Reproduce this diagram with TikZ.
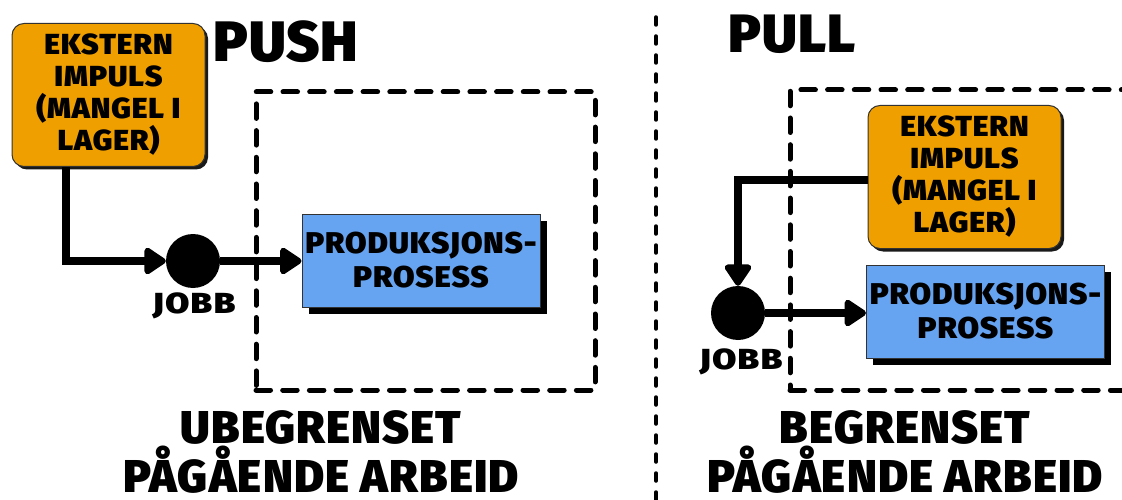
\documentclass[tikz,border=0pt]{standalone}
\usepackage{fontspec}
\setmainfont{Fira Sans Black}
\newfontfamily\boxfont{Fira Sans Black}[FakeStretch=1.04, LetterSpace=3]
\newfontfamily\jobbfont{Fira Sans Black}[FakeStretch=1.2, LetterSpace=5]
\newfontfamily\verdictfont{Fira Sans Black}[LetterSpace=2.5]
\newfontfamily\titlefont{Fira Sans Black}[LetterSpace=1.5]
\usetikzlibrary{arrows.meta,shadows}
\definecolor{impulsorange}{RGB}{239,159,0}
\definecolor{prosessblue}{RGB}{102,163,240}
\definecolor{edgegrey}{RGB}{50,50,50}
\tikzset{
  impulsbox/.style={draw=edgegrey, line width=1pt, fill=impulsorange,
    rounded corners=12pt, inner sep=0pt, align=center,
    minimum width=193pt, minimum height=143pt,
    font=\boxfont\fontsize{29}{32}\selectfont,
    drop shadow={shadow xshift=3pt, shadow yshift=-3pt, fill=black, opacity=0.9}},
  prosessbox/.style={draw=edgegrey, line width=1pt, fill=prosessblue,
    inner sep=0pt, align=center,
    minimum width=238pt, minimum height=93pt,
    font=\boxfont\fontsize{30}{34}\selectfont,
    drop shadow={shadow xshift=6.5pt, shadow yshift=-6.5pt, fill=black, opacity=1}},
  jobbdot/.style={circle, fill=black, minimum size=54pt, inner sep=0pt},
  flow/.style={line width=8pt, line join=miter,
    -{Triangle[length=24pt, width=30pt, round]}},
  wipframe/.style={draw, line width=5pt, line cap=round,
    dash pattern=on 14.5pt off 12.2pt, inner sep=0pt},
  divider/.style={line width=3.5pt, line cap=round, dash pattern=on 8pt off 11pt},
  tag/.style={font=\jobbfont\fontsize{29}{32}\selectfont, inner sep=0pt},
  title/.style={inner sep=0pt},
  verdict/.style={font=\verdictfont\fontsize{46}{49}\selectfont, align=center,
    inner sep=0pt, text depth=0pt, anchor=south}
}
\begin{document}
\begin{tikzpicture}[x=1pt, y=-1pt]
\useasboundingbox (0,0) rectangle (1122,500);
\clip (0,0) rectangle (1122,500);

% section divider
\coordinate (divtop) at (656,17);
\coordinate (divbot) at (656,505);
\draw[divider] (divtop) -- (divbot);

% ---------- PUSH ----------
\node[title, font=\titlefont\fontsize{57}{60}\selectfont] (pushtitle) at (286,42) {PUSH};
\node[wipframe, minimum width=339pt, minimum height=298pt] (pushwip) at (425.5,241) {};
\node[impulsbox] (pushimp) at (108.5,95) {EKSTERN\\IMPULS\\(MANGEL I\\LAGER)};
\node[prosessbox] (pushproc) at (421,260.5) {PRODUKSJONS-\\PROSESS};
\node[jobbdot] (pushjob) at (193,261) {};
\node[tag] (pushjoblbl) at (194,306) {JOBB};
\draw[flow] ([xshift=54pt]pushimp.south west) |- (pushjob);
\draw[flow] (pushjob.east) -- (pushjob.east -| pushproc.west);
\node[verdict] (pushverdict) at (321,493) {UBEGRENSET\\PÅGÅENDE ARBEID};

% ---------- PULL ----------
\node[title, font=\titlefont\fontsize{54}{56}\selectfont] (pulltitle) at (792,34) {PULL};
\node[wipframe, minimum width=370pt, minimum height=300pt] (pullwip) at (975,240) {};
\node[impulsbox] (pullimp) at (964.5,177) {EKSTERN\\IMPULS\\(MANGEL I\\LAGER)};
\node[prosessbox] (pullproc) at (985.5,311.5) {PRODUKSJONS-\\PROSESS};
\node[jobbdot] (pulljob) at (738,313) {};
\node[tag] (pulljoblbl) at (741,362) {JOBB};
\draw[flow] ([yshift=-3pt]pullimp.west) -| (pulljob);
\draw[flow] (pulljob.east) -- (pulljob.east -| pullproc.west);
\node[verdict] (pullverdict) at (905,493) {BEGRENSET\\PÅGÅENDE ARBEID};
\end{tikzpicture}
\end{document}
